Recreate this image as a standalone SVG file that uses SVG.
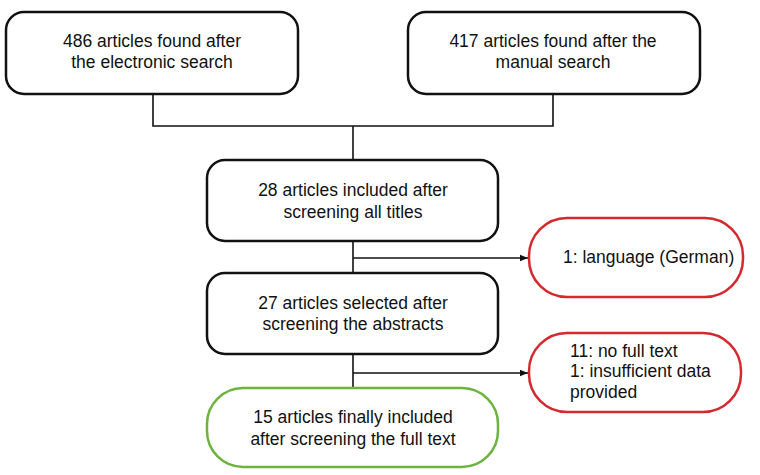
<svg xmlns="http://www.w3.org/2000/svg" width="760" height="475" viewBox="0 0 760 475">
<style>
.box{fill:#fff;stroke:#111;stroke-width:2.5}
.red{fill:#fff;stroke:#d42a2f;stroke-width:2.5}
.green{fill:#fff;stroke:#6cb33f;stroke-width:2.5}
.conn{fill:none;stroke:#111;stroke-width:1.6}
text{font-family:"Liberation Sans",Arial,sans-serif;font-size:17.5px;fill:#111}
.c{text-anchor:middle}
</style>
<defs>
<marker id="arr" viewBox="0 0 10 10" refX="10" refY="5" markerWidth="8" markerHeight="8" markerUnits="userSpaceOnUse" orient="auto">
<path d="M0,1 L10,5 L0,9 Z" fill="#111"/>
</marker>
</defs>
<rect width="760" height="475" fill="#fff"/>
<g id="connectors">
<polyline class="conn" points="153,94 153,126 553,126 553,94"/>
<line class="conn" x1="353" y1="126" x2="353" y2="160"/>
<line class="conn" x1="353" y1="241" x2="353" y2="273"/>
<line class="conn" x1="353" y1="258" x2="528" y2="258" marker-end="url(#arr)"/>
<line class="conn" x1="353" y1="354" x2="353" y2="388"/>
<line class="conn" x1="353" y1="373" x2="528" y2="373" marker-end="url(#arr)"/>
</g>
<g id="n1">
<rect class="box" x="6" y="12" width="292" height="82" rx="18" ry="18"/>
<text class="c" x="152" y="47">486 articles found after</text>
<text class="c" x="152" y="68">the electronic search</text>
</g>
<g id="n2">
<rect class="box" x="408" y="12" width="292" height="82" rx="18" ry="18"/>
<text class="c" x="553" y="47">417 articles found after the</text>
<text class="c" x="553" y="68">manual search</text>
</g>
<g id="n3">
<rect class="box" x="207" y="160" width="291" height="81" rx="18" ry="18"/>
<text class="c" x="353" y="196">28 articles included after</text>
<text class="c" x="353" y="218">screening all titles</text>
</g>
<g id="n4">
<rect class="red" x="529" y="218" width="214" height="79" rx="38" ry="38"/>
<text x="563" y="263">1: language (German)</text>
</g>
<g id="n5">
<rect class="box" x="207" y="273" width="291" height="81" rx="18" ry="18"/>
<text class="c" x="353" y="309">27 articles selected after</text>
<text class="c" x="353" y="330">screening the abstracts</text>
</g>
<g id="n6">
<rect class="red" x="529" y="333" width="212" height="79" rx="38" ry="38"/>
<text x="570" y="357">11: no full text</text>
<text x="570" y="377">1: insufficient data</text>
<text x="570" y="398">provided</text>
</g>
<g id="n7">
<rect class="green" x="207" y="388" width="291" height="79" rx="36" ry="36"/>
<text class="c" x="353" y="423">15 articles finally included</text>
<text class="c" x="353" y="445">after screening the full text</text>
</g>
</svg>
